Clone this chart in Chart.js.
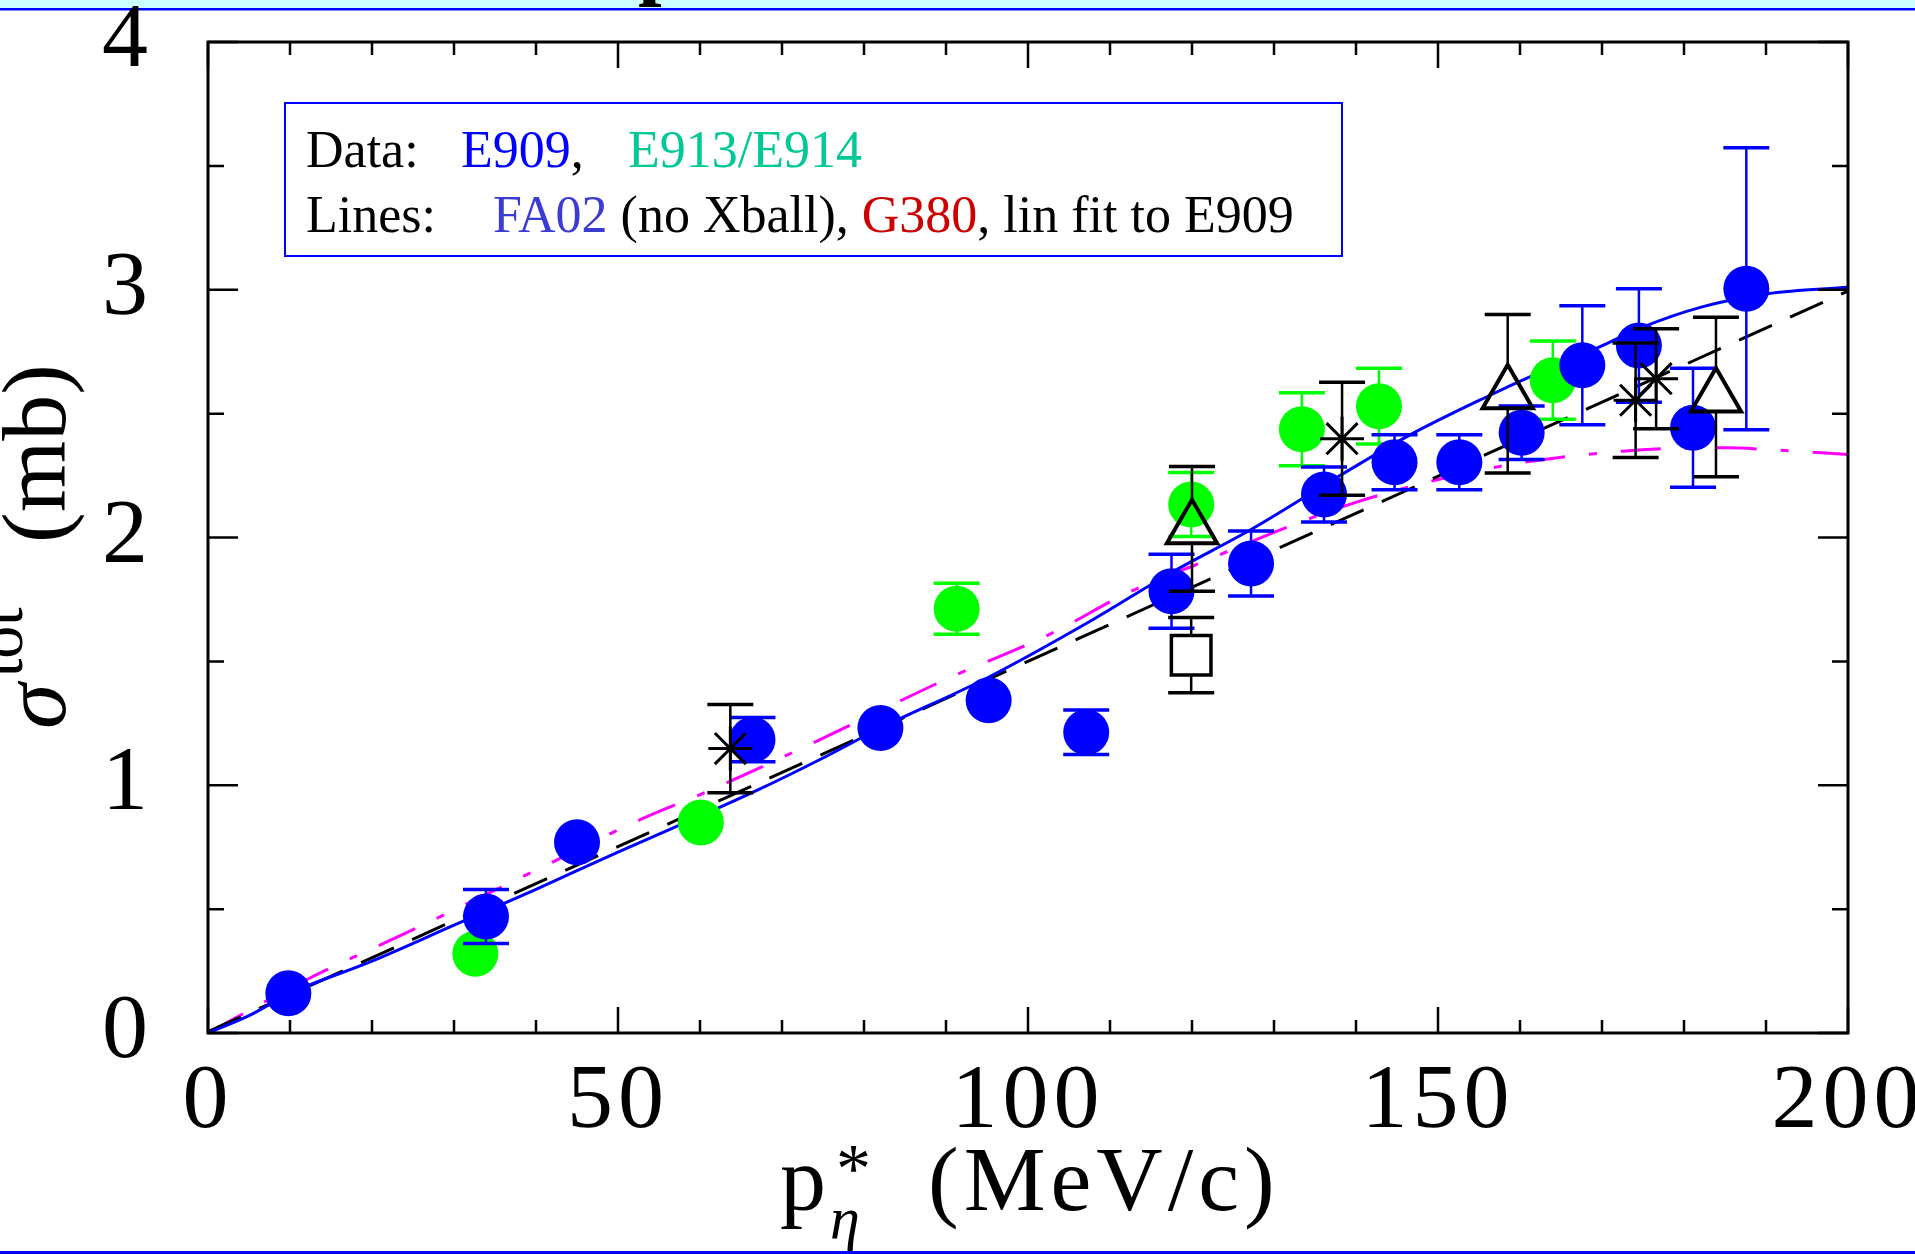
<!DOCTYPE html>
<html>
<head>
<meta charset="utf-8">
<script src="https://cdn.jsdelivr.net/npm/chart.js@4.4.0/dist/chart.umd.min.js"></script>
<style>
  html, body { margin: 0; padding: 0; background: #fff; }
</style>
</head>
<body>
<canvas id="grafico" width="1915" height="1254"></canvas>
<script>
// E909 (blue filled circles)
const e909X = [9.8, 33.9, 45.0, 66.4, 82.0, 95.2, 107.1, 117.5, 127.2, 136.1, 144.7, 152.6, 160.2, 167.6, 174.5, 181.1, 187.6];
const e909Y = [0.16, 0.47, 0.77, 1.184, 1.231, 1.343, 1.214, 1.783, 1.895, 2.174, 2.304, 2.304, 2.423, 2.695, 2.775, 2.443, 3.004];
const e909Err = [0, 0.109, 0, 0.089, 0, 0, 0.09, 0.149, 0.131, 0.111, 0.111, 0.111, 0.108, 0.24, 0.229, 0.24, 0.569];

// E913/E914 (green filled circles)
const e913X = [32.6, 60.1, 91.3, 119.9, 133.4, 142.8, 164.0];
const e913Y = [0.32, 0.85, 1.712, 2.133, 2.437, 2.53, 2.635];
const e913Err = [0, 0, 0.103, 0.129, 0.147, 0.153, 0.158];

// other data (black symbols)
const starX = [63.7, 138.3, 174.1, 176.6];
const starY = [1.148, 2.399, 2.554, 2.641];
const starErr = [0.178, 0.228, 0.231, 0.202];

const triX = [120.0, 158.5, 183.9];
const triY = [2.035, 2.58, 2.567];
const triErr = [0.252, 0.32, 0.322];

const sqX = [119.9];
const sqY = [1.525];
const sqErr = [0.152];

// curves
const fa02X = [0, 5, 10, 20, 30, 40, 50, 60, 67, 75, 82, 95, 108, 117.4, 127.2, 138.6, 146.7, 155.7, 162, 169.5, 174.8, 182.1, 190.4, 200];
const fa02Y = [0, 0.07, 0.16, 0.29, 0.435, 0.58, 0.73, 0.875, 0.98, 1.11, 1.231, 1.433, 1.67, 1.857, 2.032, 2.261, 2.416, 2.564, 2.66, 2.766, 2.847, 2.93, 2.985, 3.01];

const g380X = [0, 12, 25, 40, 52.7, 60.9, 75.9, 89.9, 103, 112.3, 120.3, 132.1, 139.8, 150, 157.7, 164.6, 172.4, 177.2, 185.4, 190.2, 200];
const g380Y = [0, 0.215, 0.417, 0.657, 0.861, 0.975, 1.204, 1.426, 1.615, 1.779, 1.888, 2.048, 2.14, 2.234, 2.288, 2.322, 2.348, 2.358, 2.362, 2.355, 2.335];

const linX = [0, 200];
const linY = [0.005, 2.995];

const pts = (xs, ys) => xs.map((x, i) => ({ x: x, y: ys[i] }));

const serif = '"Liberation Serif", "Times New Roman", serif';

// error bars, drawn just before each dataset
const errorBars = {
    id: 'errorBars',
    beforeDatasetDraw(chart, args) {
        const ds = chart.data.datasets[args.index];
        if (!ds.errors) return;
        const c = chart.ctx, ys = chart.scales.y;
        c.save();
        c.strokeStyle = ds.barColor;
        args.meta.data.forEach((pt, i) => {
            const e = ds.errors[i];
            if (!e) return;
            const v = ds.data[i].y;
            const top = ys.getPixelForValue(v + e);
            const bot = ys.getPixelForValue(v - e);
            c.lineWidth = 2.5;
            c.beginPath();
            c.moveTo(pt.x, pt.y - ds.gapUp); c.lineTo(pt.x, top);
            c.moveTo(pt.x, pt.y + ds.gapDown); c.lineTo(pt.x, bot);
            c.stroke();
            c.lineWidth = 3.5;
            c.beginPath();
            c.moveTo(pt.x - 23, top); c.lineTo(pt.x + 23, top);
            c.moveTo(pt.x - 23, bot); c.lineTo(pt.x + 23, bot);
            c.stroke();
        });
        c.restore();
    }
};

// page bands, frame, inward ticks, legend box, axis titles
const decor = {
    id: 'decor',
    beforeDraw(chart) {
        const c = chart.ctx;
        c.save();
        c.fillStyle = '#fff';
        c.fillRect(0, 0, chart.width, chart.height);
        c.fillStyle = '#ccffff';
        c.fillRect(0, 0, chart.width, 8);
        c.fillStyle = '#0000ff';
        c.fillRect(0, 8, chart.width, 2.5);
        c.fillRect(0, 1251, chart.width, 3);
        // bottom of the slide title, cut off
        c.fillStyle = '#000';
        c.font = 'bold 85px ' + serif;
        c.fillText('p', 638, -11);
        c.restore();
        c.letterSpacing = '5px';
    },
    afterDraw(chart) {
        const c = chart.ctx, a = chart.chartArea;
        const xs = chart.scales.x, ys = chart.scales.y;
        c.letterSpacing = '0px';
        c.save();
        c.strokeStyle = '#000';
        c.lineWidth = 2.5;
        c.beginPath();
        xs.ticks.forEach(t => {
            const px = xs.getPixelForValue(t.value);
            const len = t.value % 50 === 0 ? 26 : 13;
            c.moveTo(px, a.bottom); c.lineTo(px, a.bottom - len);
            c.moveTo(px, a.top); c.lineTo(px, a.top + len);
        });
        ys.ticks.forEach(t => {
            const py = ys.getPixelForValue(t.value);
            const len = Number.isInteger(t.value) ? 30 : 16;
            c.moveTo(a.left, py); c.lineTo(a.left + len, py);
            c.moveTo(a.right, py); c.lineTo(a.right - len, py);
        });
        c.stroke();
        c.lineWidth = 3;
        c.strokeRect(a.left, a.top, a.right - a.left, a.bottom - a.top);

        // legend box
        c.strokeStyle = '#0000ff';
        c.lineWidth = 2;
        c.strokeRect(285, 103, 1057, 153);
        c.font = '52px ' + serif;
        c.textAlign = 'left';
        c.textBaseline = 'alphabetic';
        const chunk = (txt, x, y, col) => {
            c.fillStyle = col;
            c.fillText(txt, x, y);
            return x + c.measureText(txt).width;
        };
        chunk('Data:', 306, 167, '#000');
        let x = chunk('E909', 461, 167, '#0000ff');
        chunk(',', x, 167, '#000');
        chunk('E913/E914', 628, 167, '#00c896');
        chunk('Lines:', 306, 232, '#000');
        x = chunk('FA02', 493, 232, '#3c3cd2');
        x = chunk(' (no Xball), ', x, 232, '#000');
        x = chunk('G380', x, 232, '#cc0000');
        chunk(', lin fit to E909', x, 232, '#000');

        // x title
        c.fillStyle = '#000';
        c.font = '92px ' + serif;
        c.fillText('p', 780, 1210);
        c.font = '70px ' + serif;
        c.fillText('*', 836, 1192);
        c.font = 'italic 60px ' + serif;
        c.fillText('η', 830, 1238);
        c.font = '92px ' + serif;
        c.letterSpacing = '5px';
        c.fillText('(MeV/c)', 928, 1210);
        c.letterSpacing = '0px';

        // y title
        c.translate(65, 729);
        c.rotate(-Math.PI / 2);
        c.font = 'italic 92px ' + serif;
        c.fillText('σ', 0, 0);
        c.font = '66px ' + serif;
        c.fillText('tot', 52, -43);
        c.font = '92px ' + serif;
        c.fillText('(mb)', 186, 0);
        c.restore();
    }
};

const ctx = document.getElementById('grafico');
new Chart(ctx, {
    type: 'scatter',
    data: {
        datasets: [
            {
                label: 'square', data: pts(sqX, sqY), errors: sqErr, barColor: '#000', gapUp: 20, gapDown: 20,
                pointStyle: 'rect', pointRadius: 28, backgroundColor: 'rgba(0,0,0,0)', borderColor: '#000', borderWidth: 3.5, order: 1
            },
            {
                label: 'triangles', data: pts(triX, triY), errors: triErr, barColor: '#000', gapUp: 29, gapDown: 14.5,
                pointStyle: 'triangle', pointRadius: 29, backgroundColor: 'rgba(0,0,0,0)', borderColor: '#000', borderWidth: 4, order: 1
            },
            {
                label: 'stars', data: pts(starX, starY), errors: starErr, barColor: '#000', gapUp: 0, gapDown: 0,
                pointStyle: 'star', pointRadius: 22, backgroundColor: 'rgba(0,0,0,0)', borderColor: '#000', borderWidth: 3, order: 1
            },
            {
                label: 'E909', data: pts(e909X, e909Y), errors: e909Err, barColor: '#0000ff', gapUp: 0, gapDown: 0,
                pointStyle: 'circle', pointRadius: 23, backgroundColor: '#0000ff', borderColor: '#0000ff', borderWidth: 0, order: 2
            },
            {
                label: 'E913/E914', data: pts(e913X, e913Y), errors: e913Err, barColor: '#00ff00', gapUp: 0, gapDown: 0,
                pointStyle: 'circle', pointRadius: 23, backgroundColor: '#00ff00', borderColor: '#00ff00', borderWidth: 0, order: 3
            },
            {
                label: 'FA02', data: pts(fa02X, fa02Y), showLine: true, pointRadius: 0,
                borderColor: '#0000ff', borderWidth: 3, tension: 0.4, cubicInterpolationMode: 'monotone', order: 4
            },
            {
                label: 'lin fit', data: pts(linX, linY), showLine: true, pointRadius: 0,
                borderColor: '#000', borderWidth: 3, borderDash: [36, 20], order: 4
            },
            {
                label: 'G380', data: pts(g380X, g380Y), showLine: true, pointRadius: 0,
                borderColor: '#ff00ff', borderWidth: 3, borderDash: [40, 24, 8, 24], tension: 0.4, cubicInterpolationMode: 'monotone', order: 4
            }
        ]
    },
    options: {
        responsive: false,
        animation: false,
        events: [],
        layout: { padding: { top: 42, right: 67, left: 0, bottom: 0 } },
        plugins: { legend: { display: false }, tooltip: { enabled: false } },
        scales: {
            x: {
                type: 'linear', min: 0, max: 200,
                grid: { display: false, drawTicks: false },
                border: { display: false },
                ticks: {
                    stepSize: 10, autoSkip: false, maxRotation: 0, padding: 24, color: '#000',
                    font: { family: serif, size: 92, lineHeight: 1 },
                    callback: v => (v % 50 === 0 ? String(v) : '')
                },
                afterFit: s => { s.height = 221; s.paddingLeft = 0; s.paddingRight = 0; }
            },
            y: {
                min: 0, max: 4,
                grid: { display: false, drawTicks: false },
                border: { display: false },
                ticks: {
                    stepSize: 0.5, autoSkip: false, padding: 55, color: '#000',
                    font: { family: serif, size: 92, lineHeight: 1 },
                    callback: v => (Number.isInteger(v) ? String(v) : '')
                },
                afterFit: s => { s.width = 208; s.paddingTop = 0; s.paddingBottom = 0; }
            }
        }
    },
    plugins: [decor, errorBars]
});
</script>
</body>
</html>
